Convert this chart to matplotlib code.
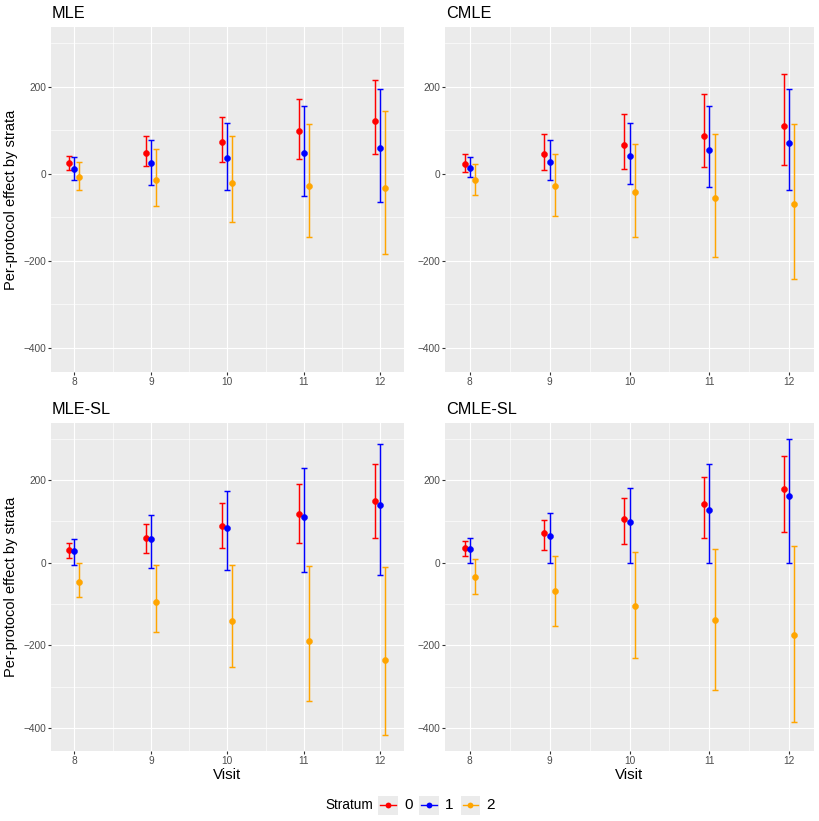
import numpy as np
import matplotlib
matplotlib.use("Agg")
import matplotlib.pyplot as plt
from matplotlib.lines import Line2D

plt.rcParams['font.family'] = ['Liberation Sans', 'DejaVu Sans']

# ----------------------------------------------------------------------------------------------------------------------
# data, one list per stratum: 0, 1, 2

visits = [8, 9, 10, 11, 12]
strata = ['0', '1', '2']
colors = ['red', 'blue', 'orange']

mle_est = [[25, 48, 73, 98, 122], [12, 24, 36, 48, 60], [-7, -13, -20, -27, -32]]
mle_lo = [[8, 18, 27, 35, 45], [-13, -26, -38, -51, -64], [-37, -74, -110, -146, -183]]
mle_hi = [[42, 86, 130, 173, 216], [39, 78, 117, 156, 195], [28, 58, 86, 115, 144]]

cmle_est = [[22, 45, 66, 88, 111], [14, 28, 41, 56, 70], [-15, -28, -42, -56, -70]]
cmle_lo = [[4, 8, 12, 16, 20], [-8, -15, -23, -31, -38], [-48, -96, -145, -192, -241]]
cmle_hi = [[45, 91, 138, 184, 229], [38, 78, 117, 156, 195], [22, 45, 68, 91, 115]]

mlesl_est = [[30, 60, 89, 118, 149], [27, 56, 83, 110, 139], [-48, -95, -142, -189, -236]]
mlesl_lo = [[12, 23, 35, 47, 59], [-6, -12, -18, -24, -30], [-84, -168, -252, -335, -418]]
mlesl_hi = [[47, 94, 143, 189, 238], [57, 115, 173, 230, 288], [-2, -5, -6, -8, -10]]

cmlesl_est = [[36, 71, 106, 141, 177], [33, 64, 97, 128, 161], [-35, -70, -104, -140, -175]]
cmlesl_lo = [[16, 30, 45, 59, 74], [0, 0, 0, 0, 0], [-76, -154, -231, -308, -387]]
cmlesl_hi = [[52, 104, 156, 207, 259], [60, 120, 180, 239, 300], [8, 17, 25, 33, 41]]

titles = ['MLE', 'CMLE', 'MLE-SL', 'CMLE-SL']
panels = [(mle_est, mle_lo, mle_hi), (cmle_est, cmle_lo, cmle_hi),
          (mlesl_est, mlesl_lo, mlesl_hi), (cmlesl_est, cmlesl_lo, cmlesl_hi)]

# ----------------------------------------------------------------------------------------------------------------------
# layout (pixels of an 820 x 821 canvas)

W, H = 820, 821
boxes = [(50.7, 27.3, 404, 372.3), (445, 27.3, 814, 372.3),
         (50.7, 423.3, 404, 751), (445, 423.3, 814, 751)]
offsets = [-0.065, 0.0, 0.065]

fig = plt.figure(figsize=(W / 100, H / 100), dpi=100)

for i, (l, t, r, b) in enumerate(boxes):
    ax = fig.add_axes([l / W, (H - b) / H, (r - l) / W, (b - t) / H])
    ax.set_facecolor('#EBEBEB')
    for sp in ax.spines.values():
        sp.set_visible(False)

    est, lo, hi = panels[i]
    for k in range(3):
        x = np.array(visits) + offsets[k]
        e = np.array(est[k])
        yerr = [e - np.array(lo[k]), np.array(hi[k]) - e]
        ax.errorbar(x, e, yerr=yerr, fmt='none', ecolor=colors[k],
                    elinewidth=1.05, capsize=2.2, capthick=1.05, zorder=3)
        ax.plot(x, e, 'o', color=colors[k], ms=4.4, mec=colors[k], mew=0.3, zorder=4)

    ax.set_xlim(7.69, 12.31)
    ax.set_ylim(-456, 337)
    ax.set_xticks(visits)
    ax.set_xticks([8.5, 9.5, 10.5, 11.5], minor=True)
    ax.set_yticks([-400, -200, 0, 200])
    ax.set_yticks([-300, -100, 100, 300], minor=True)
    ax.grid(which='major', color='white', linewidth=0.85, zorder=0)
    ax.grid(which='minor', color='white', linewidth=0.45, zorder=0)
    ax.set_axisbelow(True)
    ax.tick_params(which='major', length=2.0, width=0.8, color='#333333',
                   labelcolor='#4D4D4D', labelsize=7.3, pad=1.5)
    ax.tick_params(which='minor', length=0)

    ax.set_title(titles[i], loc='left', fontsize=11.7, pad=6.5, x=0.003)
    if i % 2 == 0:
        ax.set_ylabel('Per-protocol effect by strata', fontsize=10.5)
        ax.yaxis.set_label_coords(-0.092, 0.5)
    if i >= 2:
        ax.set_xlabel('Visit', fontsize=10.8, labelpad=1.5)

# ----------------------------------------------------------------------------------------------------------------------
# legend at the bottom

fig.text(325 / W, 1 - 805 / H, 'Stratum', fontsize=9.8, ha='left', va='center')
key_left = [378.3, 419.3, 460.7]
for k in range(3):
    kx = fig.add_axes([key_left[k] / W, (H - 815) / H, 19.3 / W, 19.5 / H])
    kx.set_facecolor('#EBEBEB')
    for sp in kx.spines.values():
        sp.set_visible(False)
    kx.set_xticks([])
    kx.set_yticks([])
    kx.set_xlim(0, 1)
    kx.set_ylim(0, 1)
    kx.add_line(Line2D([0.1, 0.9], [0.5, 0.5], color=colors[k], linewidth=1.0))
    kx.plot([0.5], [0.5], 'o', color=colors[k], ms=4.2, mew=0)
    fig.text((key_left[k] + 26) / W, 1 - 805 / H, strata[k], fontsize=11,
             ha='left', va='center')

fig.savefig('out.png', dpi=100)
